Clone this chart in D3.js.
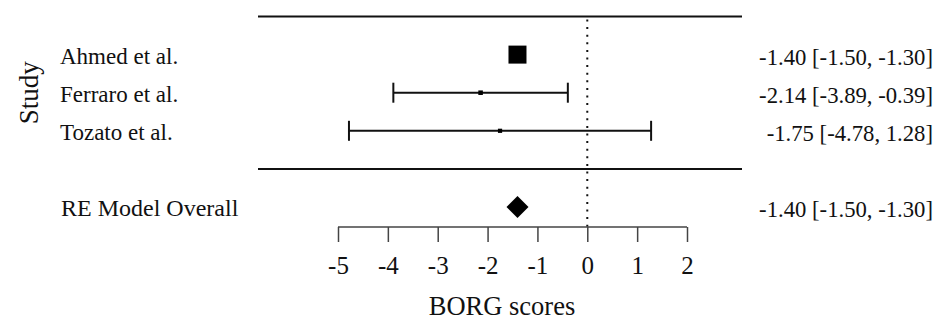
<!DOCTYPE html>
<html>
<head>
<meta charset="utf-8">
<script src="https://cdn.jsdelivr.net/npm/d3@7"></script>
<style>
  body { margin: 0; background: #fff; }
  text { font-family: "Liberation Serif", "Times New Roman", serif; fill: #111; }
</style>
</head>
<body>
<script>
// study data
let studies = ["Ahmed et al.", "Ferraro et al.", "Tozato et al."];
let estimates = [-1.40, -2.14, -1.75];
let lower = [-1.50, -3.89, -4.78];
let upper = [-1.30, -0.39, 1.28];

// pooled model
let overallLabel = "RE Model Overall";
let overall = { est: -1.40, lo: -1.50, hi: -1.30 };

let xTicks = [-5, -4, -3, -2, -1, 0, 1, 2];
let xTitle = "BORG scores";
let yTitle = "Study";

function fmt(v) { return v.toFixed(2); }

function drawForest() {
    let svg = d3.select("body").append("svg").attr("width", 945).attr("height", 327);

    let x = d3.scaleLinear().domain([-5, 2]).range([338, 687]);
    // rows: studies k..1, separator at 0, summary at -1
    let k = studies.length;
    let y = d3.scaleLinear().domain([k + 1, -1]).range([16.5, 207]);
    let left = 258, right = 742;

    // horizontal rules
    svg.selectAll("line.rule").data([k + 1, 0]).enter().append("line")
        .attr("class", "rule")
        .attr("x1", left).attr("x2", right)
        .attr("y1", d => y(d)).attr("y2", d => y(d))
        .attr("stroke", "#111").attr("stroke-width", 2);

    // reference line at 0
    svg.append("line")
        .attr("x1", x(0)).attr("x2", x(0))
        .attr("y1", y(k + 1) + 3).attr("y2", 227)
        .attr("stroke", "#111").attr("stroke-width", 2)
        .attr("stroke-dasharray", "2,5.6");

    let rows = studies.map((s, i) => ({
        name: s, est: estimates[i], lo: lower[i], hi: upper[i], row: k - i,
        w: 1 / ((upper[i] - lower[i]) / 3.92)
    }));

    let size = d3.scaleLinear().domain(d3.extent(rows, d => d.w)).range([4.2, 18]);

    let g = svg.selectAll("g.study").data(rows).enter().append("g").attr("class", "study");

    // CI whiskers (hidden under the square when the interval is narrow)
    g.filter(d => x(d.hi) - x(d.lo) > size(d.w)).each(function (d) {
        let sel = d3.select(this);
        let cy = y(d.row);
        sel.append("line")
            .attr("x1", x(d.lo)).attr("x2", x(d.hi))
            .attr("y1", cy).attr("y2", cy)
            .attr("stroke", "#111").attr("stroke-width", 2);
        sel.selectAll("line.cap").data([d.lo, d.hi]).enter().append("line")
            .attr("class", "cap")
            .attr("x1", v => x(v)).attr("x2", v => x(v))
            .attr("y1", cy - 10).attr("y2", cy + 10)
            .attr("stroke", "#111").attr("stroke-width", 2);
    });

    g.append("rect")
        .attr("x", d => x(d.est) - size(d.w) / 2)
        .attr("y", d => y(d.row) - size(d.w) / 2)
        .attr("width", d => size(d.w))
        .attr("height", d => size(d.w))
        .attr("fill", "#000");

    g.append("text")
        .attr("x", 60).attr("y", d => y(d.row) + 9)
        .style("font-size", "23px")
        .text(d => d.name);

    g.append("text")
        .attr("x", 933).attr("y", d => y(d.row) + 10)
        .attr("text-anchor", "end")
        .style("font-size", "22.7px")
        .text(d => `${fmt(d.est)} [${fmt(d.lo)}, ${fmt(d.hi)}]`);

    // summary diamond
    let cy = y(-1);
    let hw = Math.max(x(overall.hi) - x(overall.est), 11);
    svg.append("path")
        .attr("d", `M${x(overall.est) - hw},${cy}L${x(overall.est)},${cy - 11}L${x(overall.est) + hw},${cy}L${x(overall.est)},${cy + 11}Z`)
        .attr("fill", "#000");

    svg.append("text")
        .attr("x", 61).attr("y", cy + 9)
        .style("font-size", "24px")
        .text(overallLabel);

    svg.append("text")
        .attr("x", 933).attr("y", cy + 10)
        .attr("text-anchor", "end")
        .style("font-size", "22.7px")
        .text(`${fmt(overall.est)} [${fmt(overall.lo)}, ${fmt(overall.hi)}]`);

    // x axis
    let axis = svg.append("g")
        .attr("transform", "translate(0,227)")
        .call(d3.axisBottom(x).tickValues(xTicks).tickSize(15).tickSizeOuter(0).tickFormat(d3.format("d")));
    axis.select(".domain").attr("stroke", "#444").attr("stroke-width", 1.3).attr("d", `M${x(-5)},0H${x(2)}`);
    axis.selectAll(".tick line").attr("stroke", "#444").attr("stroke-width", 1.5);
    axis.selectAll(".tick text")
        .attr("y", 47).attr("dy", 0)
        .style("font-family", "'Liberation Serif', serif")
        .style("font-size", "25px")
        .attr("fill", "#111")
        .text(d => d < 0 ? "-" + Math.abs(d) : d);

    svg.append("text")
        .attr("x", 502).attr("y", 315)
        .attr("text-anchor", "middle")
        .style("font-size", "26.5px")
        .text(xTitle);

    svg.append("text")
        .attr("transform", `translate(38,${y(2)}) rotate(-90)`)
        .attr("text-anchor", "middle")
        .style("font-size", "27px")
        .text(yTitle);
}

drawForest();
</script>
</body>
</html>
